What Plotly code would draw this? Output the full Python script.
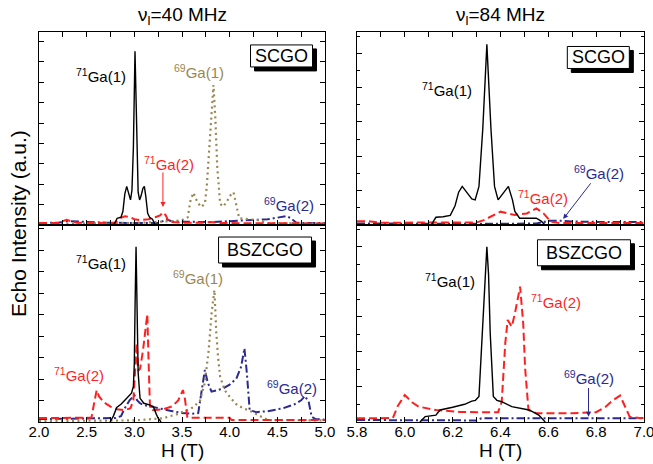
import plotly.graph_objects as go
from plotly.subplots import make_subplots

# ---------------- data ----------------
# 40 MHz, SCGO
H_40_SCGO_71Ga1 = [2.75, 2.79, 2.82, 2.86, 2.88, 2.90, 2.92, 2.94, 2.96, 2.975, 2.99, 3.007, 3.025, 3.04, 3.055, 3.07, 3.09, 3.105, 3.12, 3.14, 3.16, 3.19, 3.22]
I_40_SCGO_71Ga1 = [0.0, 0.005, 0.035, 0.04, 0.07, 0.16, 0.20, 0.16, 0.13, 0.18, 0.40, 0.90, 0.40, 0.17, 0.13, 0.15, 0.19, 0.20, 0.15, 0.06, 0.04, 0.03, 0.0]
H_40_SCGO_71Ga2 = [2.0, 2.2, 2.25, 2.29, 2.33, 2.4, 2.6, 2.8, 2.85, 2.9, 2.95, 3.0, 3.06, 3.15, 3.22, 3.27, 3.30, 3.33, 3.36, 3.5, 3.7, 3.8, 3.9, 4.2, 4.5, 5.0]
I_40_SCGO_71Ga2 = [0.01, 0.01, 0.02, 0.027, 0.02, 0.012, 0.01, 0.012, 0.035, 0.045, 0.042, 0.03, 0.025, 0.03, 0.04, 0.05, 0.066, 0.05, 0.017, 0.012, 0.012, 0.016, 0.01, 0.01, 0.008, 0.008]
H_40_SCGO_69Ga1 = [2.0, 2.5, 3.0, 3.4, 3.5, 3.56, 3.59, 3.62, 3.66, 3.70, 3.74, 3.76, 3.79, 3.83, 3.85, 3.87, 3.90, 3.93, 3.97, 4.00, 4.04, 4.07, 4.10, 4.2, 4.3, 4.4, 5.0]
I_40_SCGO_69Ga1 = [0.005, 0.008, 0.01, 0.02, 0.025, 0.04, 0.13, 0.167, 0.12, 0.093, 0.11, 0.2, 0.45, 0.725, 0.55, 0.3, 0.11, 0.095, 0.12, 0.15, 0.17, 0.10, 0.035, 0.03, 0.025, 0.01, 0.008]
H_40_SCGO_69Ga2 = [2.0, 2.2, 2.3, 2.5, 2.7, 3.0, 3.25, 3.30, 3.34, 3.40, 3.6, 3.8, 4.0, 4.2, 4.4, 4.5, 4.56, 4.60, 4.64, 4.70, 4.8, 5.0]
I_40_SCGO_69Ga2 = [0.01, 0.012, 0.02, 0.015, 0.012, 0.01, 0.01, 0.02, 0.028, 0.018, 0.015, 0.015, 0.02, 0.025, 0.03, 0.038, 0.045, 0.047, 0.035, 0.012, 0.01, 0.01]

# 40 MHz, BSZCGO
H_40_BSZ_71Ga1 = [2.745, 2.78, 2.815, 2.86, 2.90, 2.94, 2.97, 2.99, 3.00, 3.008, 3.018, 3.028, 3.04, 3.06, 3.10, 3.15, 3.20, 3.23, 3.25, 3.28]
I_40_BSZ_71Ga1 = [0.0, 0.03, 0.074, 0.09, 0.11, 0.128, 0.146, 0.18, 0.3, 0.6, 0.89, 0.6, 0.25, 0.12, 0.095, 0.088, 0.078, 0.04, 0.019, 0.0]
H_40_BSZ_71Ga2 = [2.0, 2.3, 2.55, 2.58, 2.605, 2.63, 2.68, 2.75, 2.82, 2.9, 2.96, 2.99, 3.01, 3.025, 3.04, 3.06, 3.09, 3.115, 3.136, 3.15, 3.165, 3.2, 3.3, 3.4, 3.46, 3.51, 3.53, 3.556, 3.6, 3.8, 4.0, 4.02, 4.5, 5.0]
I_40_BSZ_71Ga2 = [0.02, 0.02, 0.022, 0.1, 0.162, 0.13, 0.1, 0.078, 0.065, 0.06, 0.07, 0.11, 0.3, 0.40, 0.26, 0.27, 0.36, 0.45, 0.547, 0.3, 0.065, 0.06, 0.065, 0.08, 0.11, 0.162, 0.12, 0.025, 0.022, 0.022, 0.022, 0.01, 0.01, 0.01]
H_40_BSZ_69Ga1 = [2.0, 2.5, 3.0, 3.3, 3.45, 3.55, 3.62, 3.69, 3.74, 3.78, 3.81, 3.84, 3.86, 3.88, 3.90, 3.95, 4.0, 4.07, 4.14, 4.2, 4.28, 4.32, 4.4, 5.0]
I_40_BSZ_69Ga1 = [0.005, 0.005, 0.008, 0.019, 0.04, 0.06, 0.075, 0.11, 0.2, 0.365, 0.55, 0.67, 0.45, 0.32, 0.23, 0.16, 0.128, 0.09, 0.07, 0.06, 0.04, 0.027, 0.01, 0.008]
H_40_BSZ_69Ga2 = [2.0, 2.4, 2.8, 2.86, 2.90, 2.95, 3.0, 3.03, 3.06, 3.1, 3.2, 3.3, 3.4, 3.5, 3.6, 3.67, 3.70, 3.74, 3.77, 3.81, 3.86, 3.93, 4.0, 4.07, 4.12, 4.155, 4.18, 4.21, 4.28, 4.4, 4.56, 4.68, 4.75, 4.79, 4.83, 4.86, 4.9, 5.0]
I_40_BSZ_69Ga2 = [0.015, 0.018, 0.02, 0.03, 0.07, 0.11, 0.137, 0.11, 0.095, 0.086, 0.075, 0.067, 0.055, 0.046, 0.042, 0.045, 0.15, 0.264, 0.2, 0.154, 0.16, 0.17, 0.19, 0.22, 0.28, 0.374, 0.25, 0.06, 0.05, 0.055, 0.07, 0.09, 0.11, 0.132, 0.1, 0.027, 0.015, 0.012]

# 84 MHz, SCGO
H_84_SCGO_71Ga1 = [6.11, 6.13, 6.16, 6.19, 6.21, 6.225, 6.24, 6.26, 6.28, 6.294, 6.31, 6.326, 6.343, 6.36, 6.375, 6.39, 6.41, 6.433, 6.45, 6.46, 6.48, 6.52, 6.55, 6.57, 6.587]
I_84_SCGO_71Ga1 = [0.0, 0.04, 0.043, 0.05, 0.1, 0.17, 0.2, 0.17, 0.135, 0.13, 0.2, 0.5, 0.936, 0.5, 0.2, 0.13, 0.16, 0.2, 0.13, 0.07, 0.035, 0.035, 0.035, 0.02, 0.0]
H_84_SCGO_71Ga2 = [5.8, 5.85, 5.9, 6.0, 6.1, 6.2, 6.3, 6.33, 6.36, 6.40, 6.43, 6.46, 6.51, 6.55, 6.58, 6.61, 6.65, 6.8, 7.0]
I_84_SCGO_71Ga2 = [0.02, 0.02, 0.012, 0.012, 0.012, 0.012, 0.013, 0.025, 0.045, 0.069, 0.06, 0.052, 0.06, 0.086, 0.06, 0.017, 0.01, 0.01, 0.01]
H_84_SCGO_69Ga2 = [5.8, 6.0, 6.2, 6.4, 6.55, 6.58, 6.60, 6.66, 6.7, 6.8, 6.9, 7.0]
I_84_SCGO_69Ga2 = [0.008, 0.006, 0.006, 0.006, 0.008, 0.015, 0.022, 0.022, 0.018, 0.016, 0.016, 0.015]

# 84 MHz, BSZCGO
H_84_BSZ_71Ga1 = [6.063, 6.085, 6.13, 6.147, 6.2, 6.25, 6.28, 6.295, 6.31, 6.324, 6.334, 6.343, 6.35, 6.357, 6.37, 6.385, 6.405, 6.447, 6.52, 6.56, 6.587]
I_84_BSZ_71Ga1 = [0.0, 0.027, 0.035, 0.061, 0.075, 0.09, 0.106, 0.11, 0.13, 0.45, 0.75, 0.89, 0.75, 0.45, 0.13, 0.11, 0.103, 0.078, 0.061, 0.035, 0.0]
H_84_BSZ_71Ga2 = [5.8, 5.9, 5.95, 5.97, 6.0, 6.03, 6.057, 6.13, 6.23, 6.3, 6.39, 6.405, 6.42, 6.43, 6.447, 6.46, 6.482, 6.495, 6.503, 6.517, 6.55, 6.7, 6.8, 6.84, 6.87, 6.90, 6.92, 6.94, 6.98, 7.0]
I_84_BSZ_71Ga2 = [0.019, 0.019, 0.02, 0.08, 0.137, 0.1, 0.078, 0.061, 0.051, 0.05, 0.05, 0.1, 0.4, 0.518, 0.484, 0.55, 0.687, 0.5, 0.272, 0.061, 0.045, 0.044, 0.05, 0.078, 0.11, 0.134, 0.08, 0.027, 0.02, 0.02]
H_84_BSZ_69Ga2 = [5.8, 6.0, 6.2, 6.3, 6.32, 6.5, 6.7, 6.9, 7.0]
I_84_BSZ_69Ga2 = [0.01, 0.01, 0.008, 0.008, 0.019, 0.019, 0.019, 0.019, 0.019]

# tick labels / texts
x_ticks_40 = [2.0, 2.5, 3.0, 3.5, 4.0, 4.5, 5.0]
x_ticks_84 = [5.8, 6.0, 6.2, 6.4, 6.6, 6.8, 7.0]
titles = ["ν<sub>l</sub>=40 MHz", "ν<sub>l</sub>=84 MHz"]
samples = ["SCGO", "BSZCGO"]

# ---------------- styling ----------------
BLACK = "#000000"
RED = "#ff1f1f"
OLIVE = "#9a8650"
BLUE = "#2a2a90"
FONT = "Liberation Sans, Arial, sans-serif"
DASH = "8px,4px"
DOT = "2px,3.5px"
DASHDOT = "8px,3px,2px,3px"

fig = make_subplots(rows=2, cols=2, horizontal_spacing=0.0, vertical_spacing=0.0)

def add(h, i, row, col, color, dash, width):
    fig.add_trace(go.Scatter(x=h, y=i, mode="lines",
                             line=dict(color=color, dash=dash, width=width),
                             showlegend=False, hoverinfo="skip"), row=row, col=col)

# draw order: blue, olive, red, black
add(H_40_SCGO_69Ga2, I_40_SCGO_69Ga2, 1, 1, BLUE, DASHDOT, 2)
add(H_40_SCGO_69Ga1, I_40_SCGO_69Ga1, 1, 1, OLIVE, DOT, 2.2)
add(H_40_SCGO_71Ga2, I_40_SCGO_71Ga2, 1, 1, RED, DASH, 2)
add(H_40_SCGO_71Ga1, I_40_SCGO_71Ga1, 1, 1, BLACK, "solid", 1.4)

add(H_40_BSZ_69Ga2, I_40_BSZ_69Ga2, 2, 1, BLUE, DASHDOT, 2)
add(H_40_BSZ_69Ga1, I_40_BSZ_69Ga1, 2, 1, OLIVE, DOT, 2.2)
add(H_40_BSZ_71Ga2, I_40_BSZ_71Ga2, 2, 1, RED, DASH, 2)
add(H_40_BSZ_71Ga1, I_40_BSZ_71Ga1, 2, 1, BLACK, "solid", 1.4)

add(H_84_SCGO_69Ga2, I_84_SCGO_69Ga2, 1, 2, BLUE, DASHDOT, 2)
add(H_84_SCGO_71Ga2, I_84_SCGO_71Ga2, 1, 2, RED, DASH, 2)
add(H_84_SCGO_71Ga1, I_84_SCGO_71Ga1, 1, 2, BLACK, "solid", 1.4)

add(H_84_BSZ_69Ga2, I_84_BSZ_69Ga2, 2, 2, BLUE, DASHDOT, 2)
add(H_84_BSZ_71Ga2, I_84_BSZ_71Ga2, 2, 2, RED, DASH, 2)
add(H_84_BSZ_71Ga1, I_84_BSZ_71Ga1, 2, 2, BLACK, "solid", 1.4)

W, H = 653, 464
L, R, T, B = 39, 9, 32, 42
pw, ph = W - L - R, H - T - B
xl = [0.0, (325 - L) / pw]
xr = [(357 - L) / pw, 1.0]
ysplit = (422 - 225) / ph
yt = [ysplit, 1.0]
yb = [0.0, ysplit]

axis_common = dict(showline=True, linecolor="black", linewidth=1, mirror="ticks",
                   ticks="inside", ticklen=5, tickcolor="black", showgrid=False,
                   zeroline=False, tickfont=dict(family=FONT, size=15, color="black"),
                   ticklabeloverflow="allow", ticklabelstandoff=-4)

def minor(d, t0, ln=5):
    return dict(dtick=d, tick0=t0, ticks="inside", ticklen=ln, tickcolor="black")

fig.update_layout(
    xaxis=dict(domain=xl, range=[2.0, 5.0], tickvals=x_ticks_40, showticklabels=False,
               minor=minor(0.25, 2.0), **axis_common),
    xaxis2=dict(domain=xr, range=[5.8, 7.0], tickvals=x_ticks_84, showticklabels=False,
                minor=minor(0.1, 5.8), **axis_common),
    xaxis3=dict(domain=xl, range=[2.0, 5.0], tickvals=x_ticks_40, tickformat=".1f",
                minor=minor(0.25, 2.0), **axis_common),
    xaxis4=dict(domain=xr, range=[5.8, 7.0], tickvals=x_ticks_84, tickformat=".1f",
                minor=minor(0.1, 5.8), **axis_common),
    yaxis=dict(domain=yt, range=[0, 1], tick0=0, dtick=0.2114, showticklabels=False,
               minor=minor(0.1057, 0), **axis_common),
    yaxis2=dict(domain=yt, range=[0, 1], tick0=0, dtick=0.178, showticklabels=False,
                minor=minor(0.089, 0, 3), **axis_common),
    yaxis3=dict(domain=yb, range=[0, 1], tick0=0, dtick=0.218, showticklabels=False,
                minor=minor(0.109, 0), **axis_common),
    yaxis4=dict(domain=yb, range=[0, 1], tick0=0, dtick=0.178, showticklabels=False,
                minor=minor(0.089, 0, 3), **axis_common),
)

ann = []
shapes = []

def label(text, x, y, xref, yref, color, size=15):
    ann.append(dict(text=text, x=x, y=y, xref=xref, yref=yref, showarrow=False,
                    font=dict(family=FONT, size=size, color=color), xanchor="center", yanchor="middle"))

def box(text, x, y, xref, yref, w, h):
    # shadow, then white framed box (pixel-sized around a data anchor), then text
    for dx, fill in ((4, "black"), (0, "white")):
        shapes.append(dict(type="rect", xref=xref, yref=yref, xsizemode="pixel", ysizemode="pixel",
                           xanchor=x, yanchor=y, x0=-w / 2 + dx, x1=w / 2 + dx, y0=-h / 2 - dx, y1=h / 2 - dx,
                           fillcolor=fill, line=dict(color="black", width=1), layer="above"))
    label(text, x, y, xref, yref, "black", 18)

def arrow(x, y, ax, ay, xref, yref, color):
    ann.append(dict(text="", x=x, y=y, ax=ax, ay=ay, xref=xref, yref=yref, axref=xref, ayref=yref,
                    showarrow=True, arrowhead=2, arrowsize=1, arrowwidth=1, arrowcolor=color))

# top-left
label("<sup>71</sup>Ga(1)", 2.65, 0.777, "x", "y", BLACK)
label("<sup>69</sup>Ga(1)", 3.68, 0.793, "x", "y", OLIVE)
label("<sup>71</sup>Ga(2)", 3.36, 0.32, "x", "y", RED)
label("<sup>69</sup>Ga(2)", 4.62, 0.104, "x", "y", BLUE)
arrow(3.30, 0.093, 3.30, 0.28, "x", "y", RED)
box(samples[0], 4.544, 0.876, "x", "y", 62, 22)
# top-right
label("<sup>71</sup>Ga(1)", 6.177, 0.70, "x2", "y2", BLACK)
label("<sup>71</sup>Ga(2)", 6.578, 0.14, "x2", "y2", RED)
label("<sup>69</sup>Ga(2)", 6.812, 0.27, "x2", "y2", BLUE)
arrow(6.662, 0.031, 6.782, 0.224, "x2", "y2", BLUE)
box(samples[0], 6.809, 0.868, "x2", "y2", 62, 22)
# bottom-left
label("<sup>71</sup>Ga(1)", 2.65, 0.812, "x3", "y3", BLACK)
label("<sup>69</sup>Ga(1)", 3.67, 0.731, "x3", "y3", OLIVE)
label("<sup>71</sup>Ga(2)", 2.42, 0.239, "x3", "y3", RED)
label("<sup>69</sup>Ga(2)", 4.65, 0.173, "x3", "y3", BLUE)
box(samples[1], 4.371, 0.873, "x3", "y3", 93, 26)
# bottom-right
label("<sup>71</sup>Ga(1)", 6.19, 0.72, "x4", "y4", BLACK)
label("<sup>71</sup>Ga(2)", 6.63, 0.61, "x4", "y4", RED)
label("<sup>69</sup>Ga(2)", 6.77, 0.228, "x4", "y4", BLUE)
arrow(6.768, 0.027, 6.768, 0.18, "x4", "y4", BLUE)
box(samples[1], 6.749, 0.859, "x4", "y4", 93, 26)

# titles and axis titles
label(titles[0], sum(xl) / 2, 1.041, "paper", "paper", "black", 19)
label(titles[1], sum(xr) / 2, 1.041, "paper", "paper", "black", 19)
label("H (T)", sum(xl) / 2, -0.072, "paper", "paper", "black", 19)
label("H (T)", sum(xr) / 2, -0.072, "paper", "paper", "black", 19)
ann.append(dict(text="Echo Intensity (a.u.)", x=-0.035, y=0.51, xref="paper", yref="paper",
                showarrow=False, textangle=-90, font=dict(family=FONT, size=21, color="black"),
                xanchor="center", yanchor="middle"))

fig.update_layout(annotations=ann, shapes=shapes, width=W, height=H,
                  margin=dict(l=L, r=R, t=T, b=B, autoexpand=False),
                  plot_bgcolor="white", paper_bgcolor="white",
                  font=dict(family=FONT, color="black"))

fig.write_html("out.html", config={"displayModeBar": False},
               post_script="document.body.style.margin='0';")
